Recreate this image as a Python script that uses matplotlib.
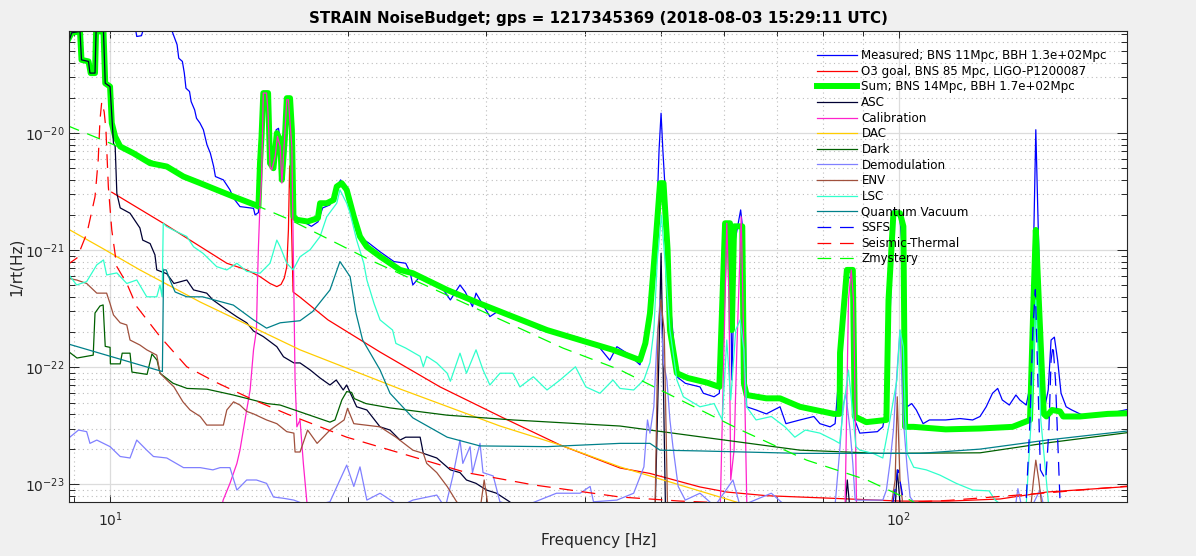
import matplotlib
matplotlib.use('Agg')
import matplotlib.pyplot as plt
import numpy as np
from matplotlib.ticker import FixedLocator, NullFormatter

# (frequency [Hz], amplitude [1/rt(Hz)])
measured = [(8.8, 1.2e-19), (10.78, 7.5e-20), (10.81, 6.7e-20), (10.96, 6.8e-20), (11.0, 7.4e-20),
            (11.06, 1.2e-19), (11.91, 1.2e-19), (11.97, 7.6e-20), (12.16, 5.7e-20), (12.22, 4.37e-20),
            (12.35, 4.1e-20), (12.42, 3.26e-20), (12.48, 2.42e-20), (12.61, 2.27e-20), (12.67, 1.86e-20),
            (12.8, 1.58e-20), (12.87, 1.34e-20), (13.0, 1.22e-20), (13.13, 1.07e-20), (13.27, 7.94e-21),
            (13.4, 6.75e-21), (13.53, 5.19e-21), (13.6, 4.26e-21), (13.92, 3.99e-21), (14.06, 3.61e-21),
            (14.19, 3.28e-21), (14.34, 2.78e-21), (14.61, 2.36e-21), (15.2, 2.28e-21), (15.27, 2.0e-21),
            (15.42, 2.1e-21), (15.49, 4.86e-21), (15.63, 2.12e-20), (15.84, 2.12e-20), (15.95, 5.36e-21),
            (16.08, 5.0e-21), (16.24, 1.07e-20), (16.35, 1.1e-20), (16.43, 8.77e-21), (16.54, 4.1e-21),
            (16.67, 1.0e-20), (16.77, 1.93e-20), (16.91, 1.93e-20), (17.01, 8.77e-21), (17.1, 1.9e-21),
            (17.41, 1.82e-21), (18.0, 1.6e-21), (18.35, 1.75e-21), (18.6, 2.3e-21), (19.0, 2.44e-21),
            (19.33, 3.4e-21), (19.6, 3.99e-21), (19.95, 3.1e-21), (20.4, 1.88e-21), (20.8, 1.27e-21),
            (21.25, 1.16e-21), (21.99, 9.7e-22), (22.9, 8.0e-22), (23.7, 7.74e-22), (24.0, 6.5e-22),
            (24.2, 5.05e-22), (24.72, 6.0e-22), (26.2, 5.05e-22), (27.0, 3.76e-22), (27.77, 5.05e-22),
            (28.2, 4.4e-22), (28.8, 3.3e-22), (29.1, 4.3e-22), (30.3, 2.71e-22), (31.21, 3.09e-22),
            (33.08, 2.63e-22), (35.08, 2.08e-22), (37.19, 1.98e-22), (39.42, 1.78e-22), (41.78, 1.46e-22),
            (43.0, 1.15e-22), (43.9, 1.5e-22), (45.3, 1.31e-22), (46.96, 1.05e-22), (48.0, 2.54e-22),
            (48.7, 5.57e-22), (49.3, 1.82e-21), (49.65, 7.2e-21), (49.94, 1.48e-20), (50.2, 7.2e-21),
            (50.8, 1.82e-21), (51.25, 3.76e-22), (52.3, 8.3e-23), (53.6, 7.3e-23), (55.95, 6.8e-23),
            (56.5, 6.0e-23), (58.3, 5.6e-23), (59.2, 6.0e-23), (60.2, 1.22e-21), (60.5, 1.7e-21),
            (61.07, 1.49e-21), (61.4, 7.79e-23), (62.0, 1.22e-21), (63.0, 2.21e-21), (63.6, 1.22e-21),
            (64.1, 4.6e-23), (65.9, 4.32e-23), (67.9, 4.0e-23), (70.67, 4.6e-23), (71.9, 3.3e-23),
            (74.9, 3.55e-23), (78.0, 3.8e-23), (79.4, 3.3e-23), (81.8, 3.1e-23), (83.0, 3.3e-23),
            (84.2, 1.15e-22), (85.9, 6.15e-22), (87.2, 5.57e-22), (87.9, 3.55e-23), (89.2, 2.74e-23),
            (93.9, 2.82e-23), (95.4, 3.1e-23), (96.7, 5.26e-23), (98.4, 2.21e-21), (100.3, 1.88e-21),
            (101.2, 8.26e-22), (102.4, 4.6e-23), (103.8, 4.9e-23), (105.2, 4.32e-23), (107.3, 3.3e-23),
            (109.3, 3.55e-23), (114.6, 3.55e-23), (119.5, 3.65e-23), (124.0, 3.55e-23), (126.7, 3.8e-23),
            (129.0, 4.6e-23), (131.4, 6.0e-23), (133.4, 6.6e-23), (135.2, 5.26e-23), (138.0, 4.76e-23),
            (140.7, 5.8e-23), (142.3, 5.26e-23), (145.0, 4.76e-23), (147.1, 7.79e-23), (148.1, 1.01e-21),
            (149.1, 1.07e-20), (150.4, 1.01e-21), (151.6, 7.79e-23), (153.1, 4.6e-23), (154.6, 6.4e-23),
            (155.9, 1.71e-22), (157.4, 1.81e-22), (158.9, 1.15e-22), (160.5, 6.0e-23), (162.9, 4.6e-23),
            (165.6, 4.32e-23), (169.6, 4.0e-23), (172.6, 3.8e-23), (179.8, 4.0e-23), (186.6, 4.1e-23),
            (196.0, 4.4e-23)]

o3_goal = [(10.05, 3.13e-21), (11.68, 1.7e-21), (14.06, 7.74e-22), (14.9, 6.79e-22), (15.49, 5.95e-22),
           (15.95, 5.2e-22), (16.27, 4.89e-22), (16.47, 5.1e-22), (16.63, 5.8e-22), (16.75, 7.24e-22),
           (16.83, 1.49e-21), (16.89, 5.25e-21), (16.94, 3.28e-21), (17.0, 1.22e-21), (17.06, 4.4e-22),
           (17.41, 3.97e-22), (18.89, 2.54e-22), (21.99, 1.35e-22), (26.2, 6.8e-23), (31.5, 3.7e-23),
           (37.2, 2.17e-23), (44.3, 1.38e-23), (48.35, 1.24e-23), (55.95, 9.5e-24), (60.5, 8.6e-24),
           (68.0, 8.0e-24), (82.5, 7.6e-24), (100.3, 7.2e-24), (115.7, 7.2e-24), (134.3, 7.5e-24),
           (154.0, 8.6e-24), (196.0, 9.6e-24)]

noise_sum = [(8.8, 5.86e-20), (8.94, 7.2e-20), (9.16, 7.4e-20), (9.2, 4.23e-20), (9.39, 4.1e-20),
             (9.45, 3.26e-20), (9.57, 3.26e-20), (9.6, 7.4e-20), (9.81, 7.4e-20), (9.86, 2.67e-20),
             (10.0, 2.5e-20), (10.05, 1.22e-20), (10.15, 9.35e-21), (10.3, 7.7e-21), (10.7, 6.75e-21),
             (11.24, 5.54e-21), (11.8, 5.19e-21), (12.39, 4.26e-21), (13.01, 3.74e-21), (13.65, 3.28e-21),
             (14.34, 2.87e-21), (15.27, 2.44e-21), (15.42, 2.36e-21), (15.49, 5.54e-21), (15.56, 9.35e-21),
             (15.64, 2.2e-20), (15.86, 2.2e-20), (15.95, 5.54e-21), (16.11, 5.02e-21), (16.27, 1.0e-20),
             (16.43, 8.77e-21), (16.51, 3.99e-21), (16.67, 1.0e-20), (16.75, 1.99e-20), (16.91, 1.99e-20),
             (17.0, 1.07e-20), (17.08, 1.94e-21), (17.25, 1.82e-21), (17.8, 1.76e-21), (18.34, 1.88e-21),
             (18.46, 2.52e-21), (18.82, 2.52e-21), (19.2, 2.69e-21), (19.38, 3.5e-21), (19.66, 3.74e-21),
             (19.95, 3.28e-21), (20.37, 1.94e-21), (20.74, 1.31e-21), (21.16, 1.07e-21), (21.99, 8.84e-22),
             (23.31, 6.79e-22), (24.2, 6.36e-22), (26.75, 4.58e-22), (29.44, 3.5e-22), (32.4, 2.71e-22),
             (35.8, 2.08e-22), (39.42, 1.71e-22), (43.4, 1.41e-22), (46.96, 1.15e-22), (47.7, 1.6e-22),
             (48.35, 2.9e-22), (49.07, 1.01e-21), (49.79, 3.74e-21), (50.3, 3.74e-21), (50.9, 1.01e-21),
             (51.25, 2.08e-22), (52.3, 8.9e-23), (54.0, 8.1e-23), (57.1, 7.4e-23), (59.2, 6.8e-23),
             (60.2, 1.7e-21), (61.07, 1.7e-21), (61.4, 2.08e-22), (61.8, 1.6e-21), (63.3, 1.6e-21),
             (63.6, 7.3e-23), (64.1, 5.8e-23), (67.9, 5.43e-23), (70.67, 5.43e-23), (74.9, 4.6e-23),
             (82.7, 4.0e-23), (84.1, 4.0e-23), (84.2, 1.33e-22), (85.9, 6.79e-22), (87.4, 6.79e-22),
             (87.9, 3.8e-23), (90.9, 3.4e-23), (96.4, 3.55e-23), (97.0, 3.76e-22), (98.4, 2.07e-21),
             (100.3, 2.07e-21), (101.3, 1.6e-21), (101.8, 3.1e-23), (104.4, 3.1e-23), (114.6, 2.95e-23),
             (126.7, 3.0e-23), (139.3, 3.1e-23), (146.6, 3.55e-23), (148.1, 3.76e-22), (149.1, 1.49e-21),
             (150.4, 3.76e-22), (152.6, 4.0e-23), (153.8, 3.8e-23), (156.3, 4.32e-23), (160.0, 4.2e-23),
             (161.5, 3.8e-23), (169.6, 3.8e-23), (184.0, 4.0e-23), (196.0, 4.05e-23)]

asc = [(8.8, 5.15e-20), (8.94, 7.2e-20), (9.16, 7.4e-20), (9.2, 4.23e-20), (9.39, 4.1e-20),
       (9.43, 3.26e-20), (9.57, 3.26e-20), (9.6, 7.4e-20), (9.81, 7.4e-20), (9.86, 2.67e-20),
       (10.0, 2.5e-20), (10.1, 8.2e-21), (10.15, 7.7e-21), (10.2, 3.06e-21), (10.3, 2.3e-21),
       (10.6, 2.07e-21), (10.91, 1.55e-21), (11.0, 1.22e-21), (11.24, 1.14e-21), (11.4, 9.12e-22),
       (11.46, 6.79e-22), (11.8, 6.3e-22), (12.05, 5.2e-22), (12.51, 5.57e-22), (12.76, 4.58e-22),
       (13.26, 4.3e-22), (13.5, 3.76e-22), (14.06, 3.09e-22), (14.48, 2.7e-22), (14.9, 2.4e-22),
       (15.2, 2.04e-22), (15.64, 1.83e-22), (16.27, 1.5e-22), (16.59, 1.23e-22), (17.1, 1.09e-22),
       (17.41, 1.09e-22), (17.93, 9.5e-23), (18.46, 8.1e-23), (19.0, 7.06e-23), (19.35, 7.79e-23),
       (19.75, 6.4e-23), (19.95, 7.06e-23), (20.54, 4.6e-23), (21.16, 4.32e-23), (21.99, 3.1e-23),
       (22.64, 2.91e-23), (23.31, 2.39e-23), (23.7, 2.53e-23), (24.72, 2.53e-23), (24.95, 1.84e-23),
       (25.95, 1.68e-23), (27.0, 1.33e-23), (27.77, 1.26e-23), (28.3, 1.09e-23), (29.1, 1.02e-23),
       (30.0, 8.94e-24), (30.9, 8.4e-24), (32.1, 7.1e-24), (33.08, 6.0e-24), (49.07, 5.5e-24),
       (49.65, 1.41e-22), (49.94, 9.4e-22), (50.2, 1.41e-22), (50.6, 5.5e-24), (85.4, 5.5e-24),
       (86.0, 1.09e-23), (86.8, 5.5e-24), (98.8, 5.5e-24), (99.5, 1.33e-23), (100.6, 5.5e-24),
       (196.0, 5.0e-24)]

calibration = [(13.79, 5.5e-24), (13.91, 7.34e-24), (14.19, 1.02e-23), (14.48, 1.51e-23), (14.61, 1.96e-23),
               (14.9, 4.32e-23), (15.05, 6.4e-23), (15.2, 1.41e-22), (15.33, 2.08e-22), (15.38, 5.57e-22),
               (15.42, 1.07e-21), (15.49, 2.5e-21), (15.56, 3.99e-21), (15.64, 2.2e-20), (15.79, 2.2e-20),
               (15.86, 1.48e-20), (15.95, 5.2e-21), (16.03, 4.86e-21), (16.19, 6.3e-21), (16.3, 9.4e-21),
               (16.43, 7.7e-21), (16.51, 3.74e-21), (16.59, 6.3e-21), (16.75, 1.93e-20), (16.83, 1.93e-20),
               (16.91, 1.22e-20), (17.0, 7.7e-21), (17.08, 7.74e-22), (17.16, 7.79e-23), (17.25, 3.1e-23),
               (17.41, 3.55e-23), (17.58, 1.51e-23), (17.76, 7.1e-24), (17.93, 4.95e-24), (59.31, 4.95e-24),
               (60.0, 1.41e-22), (60.5, 1.7e-21), (60.9, 3.76e-22), (61.2, 1.09e-23), (61.8, 1.96e-23),
               (62.3, 1.41e-22), (63.1, 1.93e-21), (63.6, 1.41e-22), (64.2, 4.95e-24), (85.4, 4.95e-24),
               (86.3, 3.76e-22), (87.0, 6.79e-22), (87.6, 3.76e-22), (88.4, 4.95e-24), (196.0, 4.95e-24)]

dac = [(8.8, 1.55e-21), (9.8, 1.03e-21), (10.91, 6.79e-22), (13.01, 3.61e-22), (17.41, 1.41e-22),
       (23.31, 6.53e-23), (31.21, 3.15e-23), (37.19, 2.17e-23), (44.3, 1.41e-23), (52.77, 9.87e-24),
       (61.07, 7.34e-24), (66.66, 6.1e-24)]

dark = [(8.8, 1.41e-22), (9.08, 1.2e-22), (9.52, 1.27e-22), (9.57, 2.91e-22), (9.71, 3.34e-22),
        (9.8, 3.41e-22), (9.86, 1.51e-22), (10.0, 1.48e-22), (10.01, 1.07e-22), (10.3, 1.07e-22),
        (10.36, 1.32e-22), (10.6, 1.32e-22), (10.66, 9.1e-23), (11.14, 8.7e-23), (11.3, 1.3e-22),
        (11.47, 1.15e-22), (11.57, 8.9e-23), (12.02, 7.3e-23), (12.52, 6.6e-23), (13.27, 6.5e-23),
        (14.33, 5.8e-23), (15.81, 4.9e-23), (16.43, 4.76e-23), (19.0, 3.4e-23), (19.28, 3.55e-23),
        (19.67, 5.26e-23), (19.95, 6.2e-23), (20.24, 6.1e-23), (20.4, 5.4e-23), (21.1, 4.9e-23),
        (22.64, 4.5e-23), (26.75, 3.9e-23), (32.4, 3.55e-23), (44.3, 3.15e-23), (55.95, 2.55e-23),
        (74.9, 1.96e-23), (94.6, 1.84e-23), (126.7, 1.86e-23), (154.0, 2.26e-23), (196.0, 2.78e-23)]

demodulation = [(8.8, 2.39e-23), (9.12, 2.91e-23), (9.34, 2.82e-23), (9.43, 2.24e-23), (9.62, 2.39e-23),
                (10.0, 2.1e-23), (10.3, 1.73e-23), (10.6, 1.68e-23), (10.81, 2.39e-23), (11.13, 1.96e-23),
                (11.35, 1.73e-23), (11.8, 1.68e-23), (12.39, 1.39e-23), (13.01, 1.39e-23), (13.5, 1.33e-23),
                (13.79, 1.39e-23), (14.19, 1.39e-23), (14.48, 8.94e-24), (14.9, 1.09e-23), (15.33, 1.09e-23),
                (15.79, 1.02e-23), (16.11, 7.8e-24), (16.6, 7.6e-24), (17.1, 7.34e-24), (17.93, 6.5e-24),
                (19.0, 7.1e-24), (19.95, 1.46e-23), (20.37, 9.6e-24), (20.74, 1.41e-23), (21.16, 7.34e-24),
                (21.99, 8.4e-24), (23.31, 6.5e-24), (24.2, 7.34e-24), (25.95, 8.1e-24), (26.6, 6.3e-24),
                (27.2, 1.18e-23), (27.77, 2.39e-23), (28.0, 1.51e-23), (28.6, 2.1e-23), (28.8, 1.26e-23),
                (29.44, 2.24e-23), (29.7, 1.26e-23), (30.6, 1.18e-23), (31.2, 7.1e-24), (33.08, 6.3e-24),
                (36.8, 8.4e-24), (39.42, 8.4e-24), (40.6, 9.6e-24), (41.0, 7.1e-24), (43.9, 7.34e-24),
                (46.1, 8.4e-24), (47.5, 1.41e-23), (48.0, 3.55e-23), (48.35, 2.74e-23), (48.9, 4.6e-23),
                (49.3, 1.5e-22), (49.79, 3.76e-22), (50.3, 1.09e-22), (50.8, 7.79e-23), (51.25, 3.55e-23),
                (51.7, 2.1e-23), (52.5, 9.6e-24), (53.6, 7.34e-24), (55.95, 8.4e-24), (58.4, 6.5e-24),
                (61.6, 1.09e-23), (62.9, 6.5e-24), (68.9, 8.4e-24), (72.3, 6.3e-24), (82.97, 6.5e-24),
                (84.2, 2.1e-23), (84.9, 4.6e-23), (85.6, 6.0e-23), (86.7, 2.91e-23), (87.4, 1.51e-23),
                (88.0, 7.34e-24), (95.4, 7.34e-24), (96.4, 8.94e-24), (97.4, 1.51e-23), (98.4, 2.91e-23),
                (99.4, 8.9e-23), (100.3, 2.08e-22), (101.3, 3.55e-23), (102.4, 1.41e-23), (103.3, 7.8e-24),
                (106.3, 6.0e-24), (140.4, 6.3e-24), (141.5, 9.2e-24), (142.9, 6.7e-24), (146.6, 6.0e-24),
                (150.9, 8.94e-24), (153.1, 6.0e-24), (196.0, 5.0e-24)]

env = [(8.8, 5.8e-22), (9.07, 5.57e-22), (9.34, 5.2e-22), (9.62, 4.3e-22), (9.9, 4.3e-22),
       (10.0, 3.5e-22), (10.1, 2.8e-22), (10.3, 2.4e-22), (10.5, 2.3e-22), (10.6, 1.71e-22),
       (10.91, 1.55e-22), (11.13, 1.41e-22), (11.46, 1.27e-22), (11.57, 8.9e-23), (11.8, 7.79e-23),
       (12.05, 6.8e-23), (12.37, 5.07e-23), (12.63, 4.32e-23), (13.01, 3.8e-23), (13.26, 3.21e-23),
       (13.92, 3.21e-23), (14.06, 4.32e-23), (14.34, 5.07e-23), (14.61, 4.76e-23), (14.9, 4.2e-23),
       (15.2, 4.0e-23), (15.79, 3.55e-23), (16.27, 3.3e-23), (16.75, 2.82e-23), (17.1, 2.74e-23),
       (17.16, 1.89e-23), (17.41, 1.89e-23), (17.8, 2.91e-23), (18.3, 2.24e-23), (19.0, 2.91e-23),
       (19.8, 3.55e-23), (20.0, 4.46e-23), (20.37, 3.3e-23), (21.99, 3.1e-23), (23.03, 2.53e-23),
       (24.2, 1.96e-23), (24.95, 1.84e-23), (25.2, 1.51e-23), (25.95, 1.26e-23), (26.75, 9.6e-24),
       (27.5, 7.1e-24), (28.6, 5.5e-24), (29.44, 6.0e-24), (29.8, 1.09e-23), (30.2, 6.0e-24),
       (46.96, 5.5e-24), (49.07, 6.0e-24), (49.5, 2.08e-22), (49.9, 3.76e-22), (50.4, 2.08e-22),
       (50.9, 6.0e-24), (97.4, 5.5e-24), (98.9, 1.09e-23), (99.5, 5.6e-23), (100.3, 1.09e-23),
       (101.5, 5.5e-24), (146.6, 5.5e-24), (148.1, 1.09e-23), (149.1, 1.61e-23), (150.4, 1.09e-23),
       (152.2, 5.5e-24), (196.0, 5.0e-24)]

lsc = [(8.8, 6.6e-22), (9.07, 5.05e-22), (9.34, 5.4e-22), (9.62, 7.5e-22), (9.81, 8.26e-22),
       (9.9, 6.15e-22), (10.2, 6.4e-22), (10.5, 5.2e-22), (10.81, 5.57e-22), (11.13, 4.0e-22),
       (11.46, 4.0e-22), (11.57, 5.05e-22), (11.64, 4.0e-22), (11.68, 1.7e-21), (11.78, 1.6e-21),
       (12.02, 1.49e-21), (12.51, 1.31e-21), (12.76, 1.07e-21), (13.12, 9.4e-22), (13.65, 7.24e-22),
       (14.06, 6.79e-22), (14.48, 7.74e-22), (14.9, 6.6e-22), (15.49, 6.36e-22), (15.95, 7.74e-22),
       (16.27, 1.22e-21), (16.43, 1.07e-21), (16.75, 7.74e-22), (17.06, 6.79e-22), (17.41, 8.8e-22),
       (17.93, 1.01e-21), (18.46, 1.31e-21), (18.82, 1.93e-21), (19.38, 2.52e-21), (19.56, 3.28e-21),
       (19.95, 2.52e-21), (20.15, 2.07e-21), (20.54, 1.22e-21), (20.97, 7.74e-22), (21.16, 5.57e-22),
       (21.61, 3.5e-22), (21.99, 2.54e-22), (22.81, 2.08e-22), (23.03, 1.6e-22), (23.7, 1.46e-22),
       (24.72, 1.24e-22), (24.95, 1.01e-22), (25.2, 1.24e-22), (25.95, 1.09e-22), (26.75, 8.9e-23),
       (27.0, 7.6e-23), (27.77, 1.32e-22), (28.3, 8.9e-23), (29.1, 1.41e-22), (29.7, 9.5e-23),
       (30.3, 7.06e-23), (31.21, 8.9e-23), (32.4, 8.9e-23), (33.08, 6.8e-23), (34.4, 8.3e-23),
       (35.8, 6.4e-23), (37.19, 7.79e-23), (38.9, 1.01e-22), (40.1, 6.8e-23), (41.78, 6.0e-23),
       (43.4, 7.79e-23), (44.3, 6.6e-23), (46.1, 6.4e-23), (47.5, 7.79e-23), (48.35, 1.1e-22),
       (48.9, 2.08e-22), (49.4, 8.26e-22), (50.0, 2.0e-21), (50.5, 8.26e-22), (51.25, 2.08e-22),
       (52.3, 7.79e-23), (53.3, 5.6e-23), (55.95, 4.6e-23), (58.3, 4.9e-23), (59.7, 3.55e-23),
       (60.5, 1.71e-22), (61.2, 5.26e-23), (62.1, 2.08e-22), (62.9, 2.54e-22), (63.6, 1.41e-22),
       (64.1, 4.6e-23), (65.9, 3.55e-23), (68.9, 3.8e-23), (71.7, 3.1e-23), (73.8, 2.53e-23),
       (76.1, 2.91e-23), (79.4, 2.74e-23), (82.7, 2.39e-23), (84.1, 2.24e-23), (85.0, 4.32e-23),
       (86.3, 9.48e-23), (87.3, 4.32e-23), (88.2, 2.1e-23), (89.2, 1.96e-23), (92.7, 1.84e-23),
       (95.4, 1.68e-23), (97.4, 3.55e-23), (99.4, 7.79e-23), (100.3, 2.08e-22), (101.3, 1.5e-22),
       (101.8, 4.6e-23), (102.4, 1.84e-23), (104.4, 1.4e-23), (108.3, 1.33e-23), (112.7, 1.2e-23),
       (118.2, 1.02e-23), (124.0, 8.94e-24), (130.1, 8.8e-24), (132.4, 7.34e-24), (137.8, 6.0e-24),
       (144.6, 4.95e-24), (147.1, 3.55e-23), (149.1, 3.76e-22), (151.3, 3.55e-23), (155.4, 4.95e-24),
       (196.0, 3.3e-24)]

quantum_vacuum = [(8.8, 1.6e-22), (11.65, 9.2e-23), (11.69, 6.8e-22), (11.78, 6.79e-22), (11.91, 5.57e-22),
                  (12.09, 4.4e-22), (12.51, 4.0e-22), (13.1, 4.0e-22), (14.33, 3.4e-22), (15.2, 2.54e-22),
                  (15.79, 2.16e-22), (16.43, 2.4e-22), (17.41, 2.5e-22), (18.07, 3.0e-22), (19.0, 4.58e-22),
                  (19.56, 8.0e-22), (20.15, 5.95e-22), (20.5, 2.9e-22), (20.9, 1.71e-22), (21.99, 9.5e-23),
                  (22.64, 6.0e-23), (24.2, 3.7e-23), (26.75, 2.53e-23), (29.44, 2.13e-23), (35.8, 2.1e-23),
                  (44.3, 2.24e-23), (48.35, 2.24e-23), (49.79, 1.96e-23), (55.95, 1.93e-23), (74.9, 1.84e-23),
                  (106.3, 1.84e-23), (126.7, 2.0e-23), (154.0, 2.39e-23), (196.0, 2.87e-23)]

ssfs = [(94.6, 3.0e-24), (98.4, 7.34e-24), (99.7, 1.33e-23), (100.8, 8.94e-24), (102.2, 4.95e-24),
        (144.6, 4.95e-24), (146.6, 3.55e-23), (147.8, 2.08e-22), (148.9, 4.6e-22), (150.0, 7.79e-23),
        (151.1, 1.33e-23), (153.5, 1.09e-23), (154.9, 2.91e-23), (155.9, 1.15e-22), (156.8, 1.55e-22),
        (157.9, 7.79e-23), (160.0, 7.34e-24), (162.5, 4.95e-24), (196.0, 4.95e-24)]

seismic_thermal = [(8.8, 7.4e-22), (9.08, 8.59e-22), (9.35, 1.41e-21), (9.57, 2.86e-21), (9.66, 5.91e-21),
                   (9.71, 1.3e-20), (9.76, 1.85e-20), (9.83, 1.52e-20), (9.88, 1.07e-20), (9.95, 3.48e-21),
                   (10.05, 1.49e-21), (10.2, 7.24e-22), (10.5, 5.2e-22), (10.81, 3.3e-22), (11.57, 1.83e-22),
                   (12.51, 1.01e-22), (13.65, 7.4e-23), (15.05, 5.43e-23), (16.75, 4.0e-23), (19.95, 2.53e-23),
                   (24.2, 1.72e-23), (28.3, 1.26e-23), (34.4, 9.9e-24), (44.3, 7.8e-24), (52.8, 7.2e-24),
                   (64.7, 6.8e-24), (86.7, 6.65e-24), (115.7, 7.3e-24), (155.4, 8.5e-24), (196.0, 9.7e-24)]

zmystery = [(8.8, 1.17e-20), (9.91, 8.43e-21), (15.49, 2.34e-21), (16.91, 1.82e-21), (21.35, 8.26e-22),
            (37.5, 1.46e-22), (44.3, 9.5e-23), (62.9, 2.93e-23), (76.4, 1.61e-23), (91.1, 1.09e-23),
            (103.3, 7.34e-24), (112.7, 5.3e-24)]

legend_labels = ['Measured; BNS 11Mpc, BBH 1.3e+02Mpc', 'O3 goal, BNS 85 Mpc, LIGO-P1200087',
                 'Sum; BNS 14Mpc, BBH 1.7e+02Mpc', 'ASC', 'Calibration', 'DAC', 'Dark',
                 'Demodulation', 'ENV', 'LSC', 'Quantum Vacuum', 'SSFS', 'Seismic-Thermal', 'Zmystery']

y_ticks = [1e-23, 1e-22, 1e-21, 1e-20]
x_ticks = [10, 100]

series = [measured, o3_goal, noise_sum, asc, calibration, dac, dark, demodulation, env, lsc,
          quantum_vacuum, ssfs, seismic_thermal, zmystery]
colors = ['#0000ff', '#ff0000', '#00ff00', '#000033', '#ff22cc', '#ffcc00', '#006000', '#8080ff',
          '#a0503c', '#30ffcc', '#00808a', '#0000ff', '#ff0000', '#00ff00']
widths = [0.9, 0.9, 4.3, 0.9, 0.9, 0.9, 0.9, 0.9, 0.9, 0.9, 0.9, 0.9, 0.9, 0.9]
dashed = ['SSFS', 'Seismic-Thermal', 'Zmystery']

plt.rcParams['font.family'] = ['DejaVu Sans']

fig = plt.figure(figsize=(11.96, 5.56), dpi=100, facecolor='#f0f0f0')
ax = fig.add_axes([0.058, 0.097, 0.8845, 0.8475])
ax.set_facecolor('white')

for data, lab, col, lw in zip(series, legend_labels, colors, widths):
    f, a = np.array(data).T
    if lab in dashed:
        ax.loglog(f, a, color=col, lw=lw, dashes=(11, 7), label=lab)
    else:
        ax.loglog(f, a, color=col, lw=lw, label=lab)

ax.set_xlim(8.88, 194.7)
ax.set_ylim(7.06e-24, 7.48e-20)
ax.set_xticks(x_ticks)
ax.set_yticks(y_ticks)
ax.yaxis.set_minor_locator(FixedLocator([m * t for t in [1e-24] + y_ticks for m in range(2, 10)]))
ax.xaxis.set_minor_formatter(NullFormatter())
ax.yaxis.set_minor_formatter(NullFormatter())

ax.set_axisbelow(True)
ax.grid(True, which='major', color='#dcdcdc', lw=0.9, ls='-')
ax.grid(True, which='minor', color='#bdbdbd', lw=0.8, ls=(0, (1, 3)))

ax.tick_params(which='both', direction='in', top=True, right=True, colors='#262626', labelsize=10)
ax.tick_params(axis='y', which='major', length=7.5, width=0.7)
ax.tick_params(axis='y', which='minor', length=4, width=0.7)
ax.tick_params(axis='x', which='major', length=5, width=0.7, pad=6)
ax.tick_params(axis='x', which='minor', length=3.5, width=0.7)
for sp in ax.spines.values():
    sp.set_color('#262626')
    sp.set_linewidth(0.8)

ax.set_title('STRAIN NoiseBudget; gps = 1217345369 (2018-08-03 15:29:11 UTC)',
             fontsize=10.8, fontweight='bold', pad=6)
ax.set_xlabel('Frequency [Hz]', fontsize=11, color='#262626', labelpad=3)
ax.set_ylabel('1/rt(Hz)', fontsize=11, color='#262626', labelpad=1)

ax.legend(loc='upper left', bbox_to_anchor=(0.7067, 0.961), frameon=False, fontsize=8.6,
          borderpad=0, borderaxespad=0, handlelength=3.35, handletextpad=0.37, labelspacing=0.22)

fig.savefig('out.png', dpi=100, facecolor=fig.get_facecolor())
